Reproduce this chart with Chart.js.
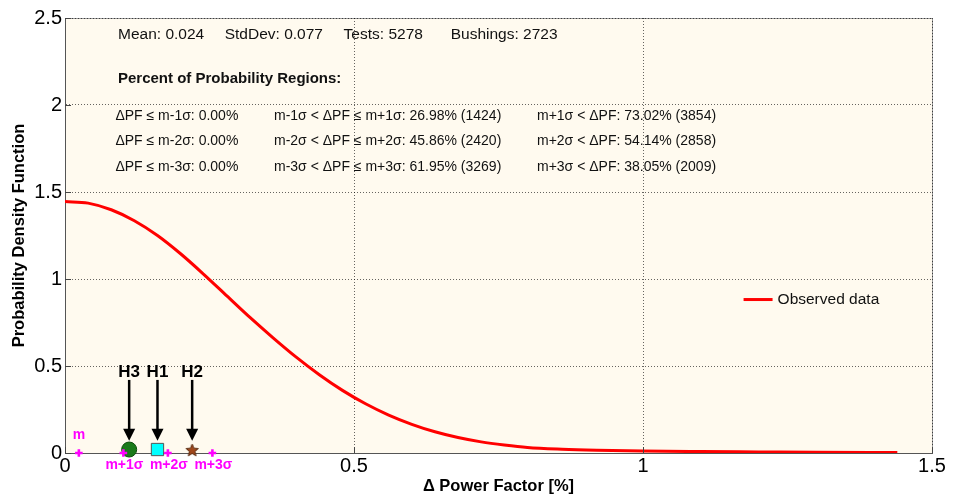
<!DOCTYPE html>
<html>
<head>
<meta charset="utf-8">
<script src="https://cdn.jsdelivr.net/npm/chart.js@4.4.1/dist/chart.umd.min.js"></script>
<style>
  html, body { margin: 0; padding: 0; background: #fff; }
</style>
</head>
<body>
<canvas id="myChart" width="963" height="495"></canvas>
<script>
// observed PDF curve
const pfValues = [0, 0.04, 0.08, 0.12, 0.16, 0.20, 0.24, 0.28, 0.32, 0.36, 0.40, 0.44, 0.48, 0.52, 0.56,
  0.60, 0.64, 0.68, 0.72, 0.76, 0.80, 0.86, 0.92, 1.00, 1.10, 1.20, 1.30, 1.44]
const pdfValues = [1.445, 1.436, 1.398, 1.335, 1.25, 1.145, 1.027, 0.903, 0.779, 0.662, 0.551, 0.450, 0.360, 0.283, 0.218,
  0.165, 0.122, 0.089, 0.064, 0.046, 0.032, 0.022, 0.016, 0.011, 0.008, 0.006, 0.004, 0.003]

// mean / sigma markers on the axis
const sigmaLabels = ['m', 'm+1σ', 'm+2σ', 'm+3σ']
const sigmaValues = [0.024, 0.101, 0.178, 0.255]

// highlighted bushings
const bushingLabels = ['H3', 'H1', 'H2']
const bushingPF = [0.111, 0.160, 0.220]
const bushingPDF = [0.02, 0.02, 0.02]

const xTicks = [0, 0.5, 1, 1.5]
const yTicks = [0, 0.5, 1, 1.5, 2, 2.5]

const statsLine = ['Mean: 0.024', 'StdDev: 0.077', 'Tests: 5278', 'Bushings: 2723']
const regionsTitle = 'Percent of Probability Regions:'
const regionRows = [
  ['ΔPF ≤ m-1σ: 0.00%', 'm-1σ < ΔPF ≤ m+1σ: 26.98% (1424)', 'm+1σ < ΔPF: 73.02% (3854)'],
  ['ΔPF ≤ m-2σ: 0.00%', 'm-2σ < ΔPF ≤ m+2σ: 45.86% (2420)', 'm+2σ < ΔPF: 54.14% (2858)'],
  ['ΔPF ≤ m-3σ: 0.00%', 'm-3σ < ΔPF ≤ m+3σ: 61.95% (3269)', 'm+3σ < ΔPF: 38.05% (2009)']
]

const FONT = "'Liberation Sans', Arial, sans-serif"
Chart.defaults.font.family = FONT
Chart.defaults.color = '#000'

function starImage(size, fill, stroke) {
  let c = document.createElement('canvas')
  c.width = size
  c.height = size
  let g = c.getContext('2d')
  let R = size / 2 - 1, r = R * 0.45
  g.beginPath()
  for (let k = 0; k < 10; k++) {
    let rad = k % 2 ? r : R
    let ang = -Math.PI / 2 + k * Math.PI / 5
    g.lineTo(size / 2 + rad * Math.cos(ang), size / 2 + 1 + rad * Math.sin(ang))
  }
  g.closePath()
  g.fillStyle = fill
  g.fill()
  g.strokeStyle = stroke
  g.lineWidth = 1
  g.stroke()
  return c
}

// text, arrows, legend and frame, all anchored on the axes
const annotate = {
  id: 'annotate',
  beforeDraw(chart) {
    let {ctx, chartArea: a} = chart
    ctx.save()
    ctx.fillStyle = '#FFFAEF'
    ctx.fillRect(a.left, a.top, a.right - a.left, a.bottom - a.top)
    ctx.strokeStyle = '#999'
    ctx.lineWidth = 1
    ctx.beginPath()
    ctx.moveTo(a.left, a.top + 0.5)
    ctx.lineTo(Math.round(a.right) + 0.5, a.top + 0.5)
    ctx.lineTo(Math.round(a.right) + 0.5, a.bottom)
    ctx.stroke()
    ctx.restore()
  },
  afterDraw(chart) {
    let {ctx, chartArea: a} = chart
    let xs = chart.scales.x, ys = chart.scales.y
    ctx.save()

    // inner tick marks
    ctx.strokeStyle = '#444'
    ctx.lineWidth = 1
    ctx.beginPath()
    yTicks.forEach(v => {
      let y = Math.round(ys.getPixelForValue(v)) + 0.5
      ctx.moveTo(a.left, y)
      ctx.lineTo(a.left + 6, y)
    })
    xTicks.forEach(v => {
      let x = Math.round(xs.getPixelForValue(v)) + 0.5
      ctx.moveTo(x, a.bottom)
      ctx.lineTo(x, a.bottom - 6)
    })
    ctx.stroke()

    // stats text
    ctx.fillStyle = '#111'
    ctx.textAlign = 'left'
    ctx.textBaseline = 'middle'
    ctx.font = '15.5px ' + FONT
    let statX = [0.0917, 0.2763, 0.482, 0.6673]
    statsLine.forEach((t, i) => ctx.fillText(t, xs.getPixelForValue(statX[i]), ys.getPixelForValue(2.406)))
    ctx.font = 'bold 15px ' + FONT
    ctx.fillText(regionsTitle, xs.getPixelForValue(0.0917), ys.getPixelForValue(2.153))
    ctx.font = '14px ' + FONT
    let colX = [0.0872, 0.3616, 0.8166]
    let rowY = [1.938, 1.794, 1.645]
    regionRows.forEach((row, r) => {
      row.forEach((t, c) => ctx.fillText(t, xs.getPixelForValue(colX[c]), ys.getPixelForValue(rowY[r])))
    })

    // arrows to the bushings
    ctx.strokeStyle = '#000'
    ctx.fillStyle = '#000'
    ctx.lineWidth = 2.5
    bushingPF.forEach((v, i) => {
      let x = xs.getPixelForValue(v)
      let top = ys.getPixelForValue(0.42)
      let tip = ys.getPixelForValue(0.07)
      ctx.beginPath()
      ctx.moveTo(x, top)
      ctx.lineTo(x, tip - 9)
      ctx.stroke()
      ctx.beginPath()
      ctx.moveTo(x, tip)
      ctx.lineTo(x - 6, tip - 12)
      ctx.lineTo(x + 6, tip - 12)
      ctx.closePath()
      ctx.fill()
    })
    ctx.font = 'bold 17px ' + FONT
    ctx.textAlign = 'center'
    bushingLabels.forEach((t, i) => ctx.fillText(t, xs.getPixelForValue(bushingPF[i]), ys.getPixelForValue(0.464)))

    // sigma labels
    ctx.fillStyle = '#FF00FF'
    ctx.font = 'bold 14px ' + FONT
    let y0 = ys.getPixelForValue(0)
    sigmaLabels.forEach((t, i) => {
      let y = i == 0 ? y0 - 18 : y0 + 12
      ctx.fillText(t, xs.getPixelForValue(sigmaValues[i]) + (i == 0 ? 0 : 1), y)
    })

    // legend
    let lx = xs.getPixelForValue(1.174), ly = ys.getPixelForValue(0.882)
    ctx.strokeStyle = '#FF0000'
    ctx.lineWidth = 3
    ctx.beginPath()
    ctx.moveTo(lx, ly)
    ctx.lineTo(lx + 29, ly)
    ctx.stroke()
    ctx.fillStyle = '#111'
    ctx.textAlign = 'left'
    ctx.font = '15.5px ' + FONT
    ctx.fillText('Observed data', lx + 34, ly)

    ctx.restore()
  }
}

let ctx = document.getElementById('myChart').getContext('2d')
let graph = new Chart(ctx, {
  type: 'scatter',
  data: {
    datasets: [{
      label: 'sigma',
      data: sigmaValues.map(v => ({x: v, y: 0})),
      pointStyle: 'cross',
      pointRadius: 3.8,
      borderWidth: 2.6,
      borderColor: '#FF00FF',
      clip: false,
      order: 0
    }, {
      label: 'bushings',
      data: bushingPF.map((v, i) => ({x: v, y: bushingPDF[i]})),
      pointStyle: ['circle', 'rect', starImage(15, '#A0481C', '#5A2A0E')],
      pointRadius: [7.5, 8.7, 7.5],
      backgroundColor: ['#1A7A1A', '#00FFFF', '#A0481C'],
      borderColor: ['#0B4D0B', '#555', '#5A2A0E'],
      borderWidth: 1,
      clip: false,
      order: 1
    }, {
      label: 'Observed data',
      data: pfValues.map((v, i) => ({x: v, y: pdfValues[i]})),
      showLine: true,
      borderColor: '#FF0000',
      borderWidth: 3,
      pointRadius: 0,
      cubicInterpolationMode: 'monotone',
      order: 2
    }]
  },
  options: {
    responsive: false,
    animation: false,
    layout: {padding: {top: 18, right: 31, left: 0, bottom: 0}},
    plugins: {legend: {display: false}, tooltip: {enabled: false}},
    scales: {
      x: {
        type: 'linear',
        min: 0,
        max: 1.5,
        afterBuildTicks: s => { s.ticks = xTicks.map(v => ({value: v})) },
        afterFit: s => { s.height = 42 },
        ticks: {font: {size: 20}, padding: 1, color: '#000', callback: v => String(v), maxRotation: 0},
        grid: {color: 'rgba(0,0,0,0.6)', lineWidth: 1, drawTicks: false},
        border: {display: true, color: '#555', width: 1, dash: [1, 2]},
        title: {display: true, text: 'Δ Power Factor [%]', font: {size: 16.5, weight: 'bold'}, padding: {top: 0, bottom: -1.5}, color: '#000'}
      },
      y: {
        type: 'linear',
        min: 0,
        max: 2.5,
        afterBuildTicks: s => { s.ticks = yTicks.map(v => ({value: v})) },
        afterFit: s => { s.width = 65 },
        ticks: {font: {size: 20}, padding: 3, color: '#000', callback: v => String(v)},
        grid: {color: 'rgba(0,0,0,0.6)', lineWidth: 1, drawTicks: false},
        border: {display: true, color: '#555', width: 1, dash: [1, 2]},
        title: {display: true, text: 'Probability Density Function', font: {size: 16.5, weight: 'bold'}, padding: {top: 10, bottom: 0}, color: '#000'}
      }
    }
  },
  plugins: [annotate]
})
</script>
</body>
</html>
